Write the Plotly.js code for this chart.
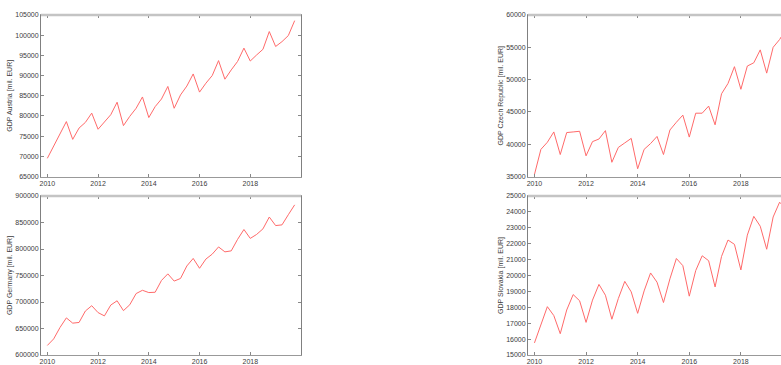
<!DOCTYPE html>
<html><head><meta charset="utf-8">
<script src="https://cdn.plot.ly/plotly-3.0.1.min.js"></script>
<style>html,body{margin:0;padding:0;overflow:hidden;background:#fff;width:781px;height:365px}</style>
</head><body><div id="chart"></div>
<script>
const quarters = [2010,2010.25,2010.5,2010.75,2011,2011.25,2011.5,2011.75,2012,2012.25,2012.5,2012.75,2013,2013.25,2013.5,2013.75,2014,2014.25,2014.5,2014.75,2015,2015.25,2015.5,2015.75,2016,2016.25,2016.5,2016.75,2017,2017.25,2017.5,2017.75,2018,2018.25,2018.5,2018.75,2019,2019.25,2019.5,2019.75];
const gdpAustria = [69500,72600,75600,78600,74200,77000,78400,80700,76700,78400,80300,83400,77600,79900,81900,84700,79600,82300,84200,87300,81900,85200,87400,90400,85900,88100,90000,93700,89100,91400,93500,96800,93600,95100,96500,100900,97200,98400,99900,103600];
const gdpCzech = [35300,39200,40300,41900,38400,41800,41900,42000,38200,40400,40800,42100,37200,39500,40200,40900,36200,39200,40100,41200,38400,42200,43400,44500,41100,44800,44800,45900,43000,47800,49400,52000,48500,52100,52600,54600,51000,55000,56200,57800];
const gdpGermany = [618000,630400,652000,670000,660100,661400,683000,693000,680000,673800,694200,702300,683700,694800,715900,722100,717800,718400,740700,753100,739500,744400,768000,782200,763600,781000,790300,803900,794600,796500,818200,836800,820000,827500,838000,860300,844200,845500,864700,883300];
const gdpSlovakia = [15760,16900,18040,17480,16340,17830,18800,18410,17050,18450,19440,18760,17250,18550,19630,18970,17620,19030,20160,19580,18300,19790,21070,20620,18700,20310,21240,20930,19280,21200,22230,21960,20350,22540,23720,23100,21650,23680,24610,24200];
const yTitles = ["GDP Austria [mil. EUR]","GDP Czech Republic [mil. EUR]","GDP Germany [mil. EUR]","GDP Slovakia [mil. EUR]"];
const xTickVals = [2010,2012,2014,2016,2018];
const xTickText = ["2010","2012","2014","2016","2018"];

const W = 800, H = 365;
const lineColor = '#ff6a6a';
const series = [gdpAustria, gdpCzech, gdpGermany, gdpSlovakia];
const traces = series.map((s,i)=>({
  x: quarters, y: s, type:'scatter', mode:'lines',
  line:{color:lineColor, width:1},
  xaxis: i===0?'x':'x'+(i+1), yaxis: i===0?'y':'y'+(i+1),
  hoverinfo:'skip', showlegend:false
}));

const xdomL = [41/W, 301/W], xdomR = [528/W, 792.5/W];
const ydomT = [1-176.5/H, 1-15/H], ydomB = [1-355/H, 1-196/H];
const font = {family:'Liberation Sans, Arial, sans-serif', size:7, color:'#3c3c3c'};
function xa(dom, anchor){
  return {domain:dom, anchor:anchor, range:[2009.75,2020], tickvals:xTickVals, ticktext:xTickText,
    showgrid:false, zeroline:false, showline:true, linecolor:'#999', linewidth:1, mirror:'ticks',
    ticks:'inside', ticklen:3, tickcolor:'#888', tickfont:font, automargin:false};
}
function ya(dom, anchor, range, dtick, title){
  return {domain:dom, anchor:anchor, range:range, dtick:dtick, tick0:range[0],
    exponentformat:'none', separatethousands:false, tickformat:'d',
    showgrid:false, zeroline:false, showline:true, linecolor:'#808080', linewidth:1, mirror:'ticks',
    ticks:'inside', ticklen:3, tickcolor:'#888', tickfont:font, automargin:false,
    title:{text:title, font:font, standoff:1}};
}
const layout = {
  width:W, height:H, margin:{l:0,r:0,t:0,b:0}, paper_bgcolor:'#fff', plot_bgcolor:'#fff',
  xaxis: xa(xdomL,'y'), yaxis: ya(ydomT,'x',[65000,105000],5000,yTitles[0]),
  xaxis2: xa(xdomR,'y2'), yaxis2: ya(ydomT,'x2',[35000,60000],5000,yTitles[1]),
  xaxis3: xa(xdomL,'y3'), yaxis3: ya(ydomB,'x3',[600000,900000],50000,yTitles[2]),
  xaxis4: xa(xdomR,'y4'), yaxis4: ya(ydomB,'x4',[15000,25000],1000,yTitles[3]),
  shapes: [['x','y'],['x2','y2'],['x3','y3'],['x4','y4']].map(([xr,yr])=>({
    type:'line', xref:xr+' domain', yref:yr+' domain', x0:0, x1:1, y0:1, y1:1,
    line:{color:'#c4c4c4', width:2.5}, layer:'above'
  }))
};
Plotly.newPlot('chart', traces, layout, {staticPlot:true, displayModeBar:false});
</script></body></html>
